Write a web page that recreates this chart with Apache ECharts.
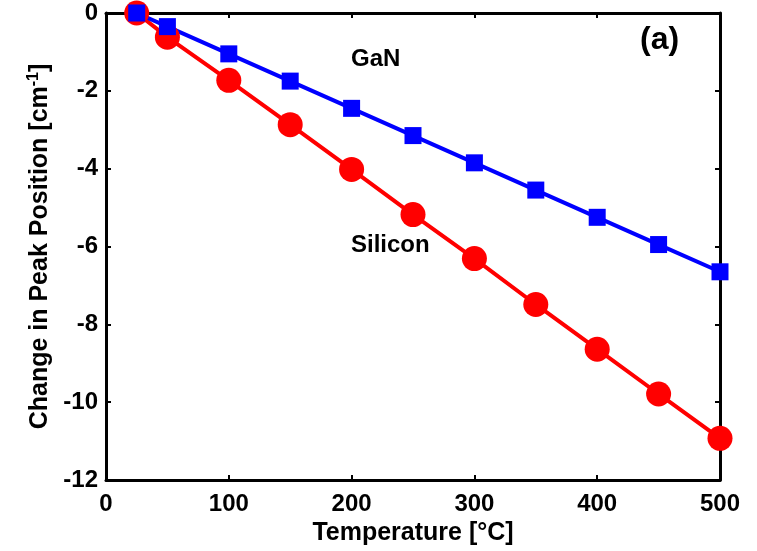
<!DOCTYPE html>
<html><head><meta charset="utf-8">
<script src="https://cdn.jsdelivr.net/npm/echarts@6/dist/echarts.min.js"></script>
<style>html,body{margin:0;padding:0;background:#fff}#c{width:757px;height:551px}</style>
</head><body><div id="c"></div>
<script>
const temps = [25, 50, 100, 150, 200, 250, 300, 350, 400, 450, 500];
const ganValues = [0, -0.35, -1.05, -1.75, -2.45, -3.15, -3.85, -4.55, -5.25, -5.95, -6.65];
const siliconValues = [0, -0.62, -1.73, -2.87, -4.02, -5.18, -6.31, -7.49, -8.64, -9.79, -10.93];
const xTicks = [0, 100, 200, 300, 400, 500];
const yTicks = [0, -2, -4, -6, -8, -10, -12];

const chart = echarts.init(document.getElementById('c'));
const font = 'Liberation Sans, Arial, sans-serif';
const axisLine = {show: true, onZero: false, lineStyle: {color: '#000', width: 3}};
const axisTick = {show: true, inside: true, length: 5, lineStyle: {color: '#000', width: 2}};
chart.setOption({
  animation: false,
  backgroundColor: '#fff',
  grid: {left: 106, right: 37, top: 13, bottom: 71, containLabel: false},
  xAxis: [{
    type: 'value', min: 0, max: 500, interval: 100,
    axisLine, axisTick, splitLine: {show: false},
    axisLabel: {color: '#000', fontFamily: font, fontWeight: 'bold', fontSize: 24, margin: 12},
    name: 'Temperature [°C]', nameLocation: 'middle', nameGap: 35,
    nameTextStyle: {color: '#000', fontFamily: font, fontWeight: 'bold', fontSize: 25}
  }, {
    type: 'value', position: 'top', min: 0, max: 500, interval: 100,
    axisLine, axisTick, axisLabel: {show: false}, splitLine: {show: false}
  }],
  yAxis: [{
    type: 'value', min: -12, max: 0, interval: 2,
    axisLine, axisTick, splitLine: {show: false},
    axisLabel: {color: '#000', fontFamily: font, fontWeight: 'bold', fontSize: 24, margin: 8},
    name: '{n|Change in Peak Position [cm}{s|-1}{n|]}', nameLocation: 'middle', nameGap: 50,
    nameTextStyle: {
      rich: {
        n: {color: '#000', fontFamily: font, fontWeight: 'bold', fontSize: 25},
        s: {color: '#000', fontFamily: font, fontWeight: 'bold', fontSize: 16, verticalAlign: 'top', padding: [0,0,12,0]}
      }
    }
  }, {
    type: 'value', position: 'right', min: -12, max: 0, interval: 2,
    axisLine, axisTick, axisLabel: {show: false}, splitLine: {show: false}
  }],
  series: [{
    name: 'Silicon', type: 'line', clip: false,
    data: temps.map((t, i) => [t, siliconValues[i]]),
    symbol: 'circle', symbolSize: 25,
    lineStyle: {color: '#ff0000', width: 4},
    itemStyle: {color: '#ff0000'}
  }, {
    name: 'GaN', type: 'line', clip: false,
    data: temps.map((t, i) => [t, ganValues[i]]),
    symbol: 'rect', symbolSize: 17,
    lineStyle: {color: '#0000ff', width: 4},
    itemStyle: {color: '#0000ff'}
  }],
  graphic: [
    {type: 'text', left: 351, top: 47, style: {text: 'GaN', font: 'bold 24px ' + font, fill: '#000'}},
    {type: 'text', left: 351, top: 233, style: {text: 'Silicon', font: 'bold 24px ' + font, fill: '#000'}},
    {type: 'text', left: 640, top: 24, style: {text: '(a)', font: 'bold 32px ' + font, fill: '#000'}}
  ]
});
</script></body></html>
